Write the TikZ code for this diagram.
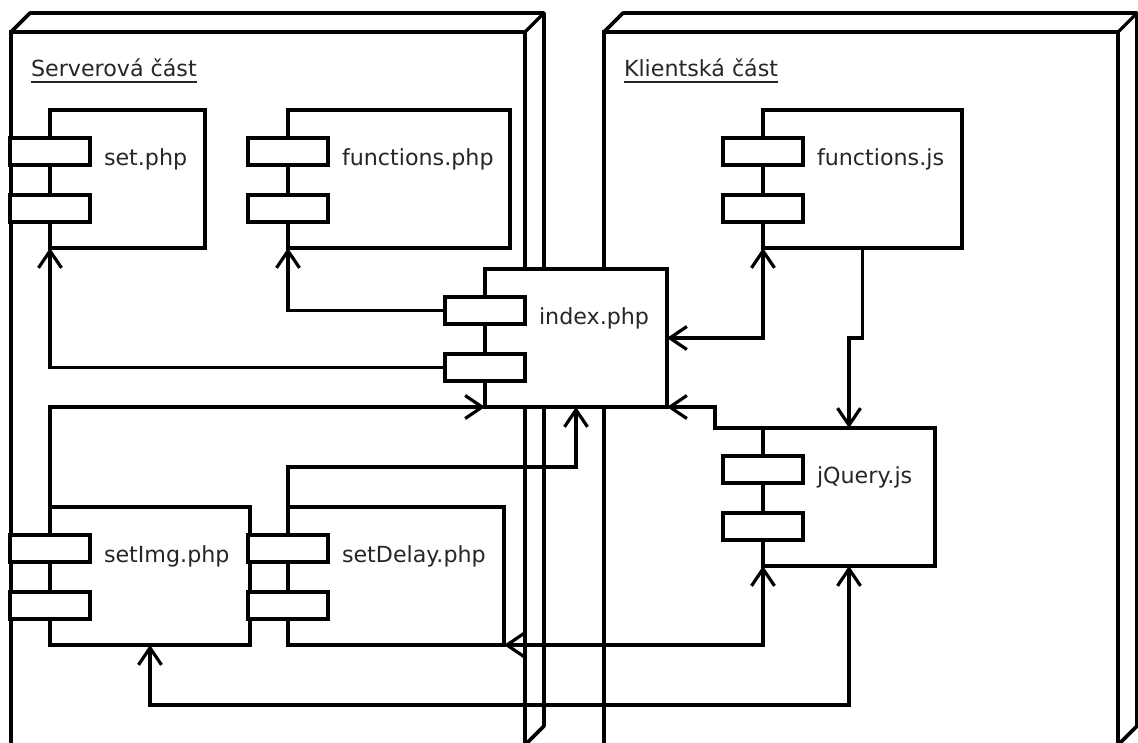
\documentclass[tikz,border=0pt]{standalone}
\usepackage{fontspec}
\setmainfont{DejaVu Sans}
\usetikzlibrary{arrows.meta,calc}

\tikzset{
  openv/.tip={Straight Barb[length=17pt,width=23pt]},
  wire/.style={line width=3.2pt},
  conn/.style={wire, line join=miter},
  frontface/.style={draw, wire, rectangle, inner sep=0pt, outer sep=0pt,
    minimum width=514pt, minimum height=713pt, anchor=north west},
  comp/.style={draw, wire, fill=white, rectangle, inner sep=0pt, outer sep=0pt,
    minimum height=138pt, anchor=north west},
  port/.style={draw, wire, fill=white, rectangle, inner sep=0pt, outer sep=0pt,
    minimum width=80pt, minimum height=27pt, anchor=north},
  lbl/.style={inner sep=0pt, outer sep=0pt, anchor=base west, text=black!85,
    font=\fontsize{22.2}{26}\selectfont},
}

% a UML component: main box, two ports on its left edge, and its name
\newcommand\umlcomp[5]{%
  \node[comp, minimum width=#4pt] (#1) at (#2,#3) {};
  \node[port] (#1-a) at ($(#1.north west)+(0,28)$) {};
  \node[port] (#1-b) at ($(#1.north west)+(0,85)$) {};
  \node[lbl] (#1-l) at ($(#1-a.south east)+(14,0)$) {#5};
}

% a 3D deployment node: front face, depth edges and underlined title
\newcommand\depnode[4]{%
  \node[frontface] (#1) at (#2,#3) {};
  \draw[wire, line width=3.6pt, line join=round] (#1.north west) -- ++(19,-19)
    -- ($(#1.north east)+(19,-19)$) -- ($(#1.south east)+(19,-19)$)
    -- (#1.south east);
  \draw[wire] (#1.north east) -- ++(19,-19);
  \node[lbl] (#1-t) at ($(#1.north west)+(20,44)$) {#4};
  \draw[line width=1.8pt, black!85] ([yshift=-6pt]#1-t.base west) -- ([yshift=-6pt]#1-t.base east);
}

\begin{document}
\begin{tikzpicture}[x=1pt, y=-1pt]
  \useasboundingbox (0,0) rectangle (1138,742);

  % deployment nodes
  \depnode{server}{11}{32}{Serverová část}
  \depnode{client}{604}{32}{Klientská část}

  % components
  \umlcomp{set}{50}{110}{155}{set.php}
  \umlcomp{fphp}{288}{110}{222}{functions.php}
  \umlcomp{index}{485}{269}{182}{index.php}
  \umlcomp{fjs}{763}{110}{199}{functions.js}
  \umlcomp{jq}{763}{428}{172}{jQuery.js}
  \umlcomp{setimg}{50}{507}{200}{setImg.php}
  \umlcomp{setdelay}{288}{507}{216}{setDelay.php}

  % dependencies
  \draw[conn, -openv] (index-b.west) -| (set.south west);
  \draw[conn, -openv] (index-a.west) -| (fphp.south west);
  \draw[conn, -openv] (setimg.north west) |- (index.south west);
  \draw[conn, -openv] (setdelay.north west) -- ++(0,-40) -| (index.south);
  \draw[conn, openv-openv] (index.east) -| (fjs.south west);
  \draw[conn, -openv] (fjs.south) -- (fjs.south |- index.east) -| (jq.north);
  \draw[conn, -openv] (jq.north west) -- ++(-48,0) |- (index.south east);
  \draw[conn, openv-openv] (setdelay.south east) -| (jq.south west);
  \draw[conn, openv-openv] (setimg.south) -- ++(0,60) -| (jq.south);
\end{tikzpicture}
\end{document}
